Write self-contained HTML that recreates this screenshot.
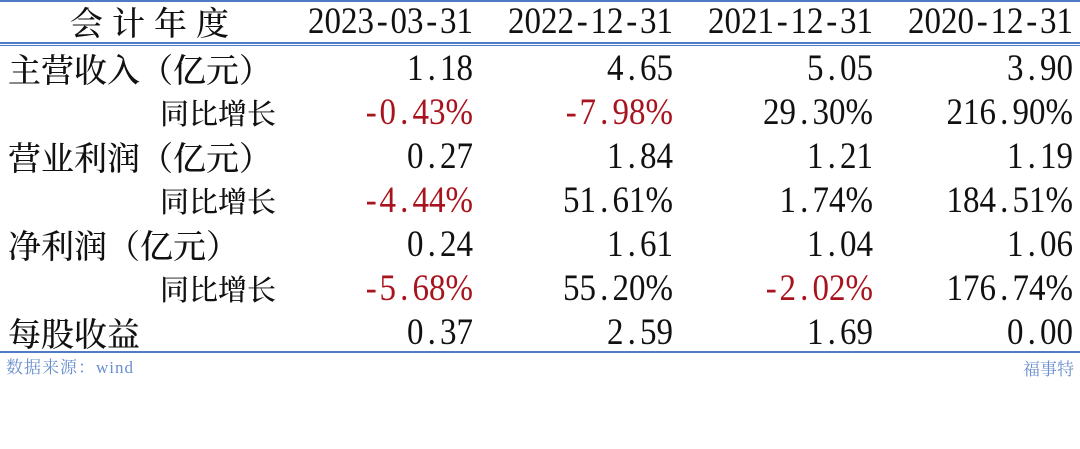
<!DOCTYPE html>
<html><head><meta charset="utf-8"><style>
body{margin:0;width:1080px;height:449px;background:#fff;position:relative;overflow:hidden;font-family:"Liberation Serif","Noto Serif CJK SC",serif;color:#111}
.r{position:absolute;left:0;width:1080px;height:44px;line-height:44px}
.c{position:absolute;top:0;font-size:33px;white-space:nowrap;text-align:right;transform:scaleY(1.12);transform-origin:50% 55%}
.n{font-family:"Liberation Serif",serif;}
.n span{display:inline-block;width:0.5em;text-align:center}
.red{color:#a8141e}
.ln{position:absolute;left:0;width:1080px;background:#4f7bc4}
.l{font-family:"Noto Serif CJK SC",serif;position:absolute;top:0;white-space:nowrap;font-weight:500}
</style></head><body>
<div class="ln" style="top:0;height:2px"></div>
<div class="ln" style="top:42px;height:2px"></div>
<div class="ln" style="top:45px;height:1px"></div>
<div class="ln" style="top:351px;height:2px"></div>

<div class="r" style="top:0">
<div class="l" style="left:70px;font-size:33px;letter-spacing:9px">会计年度</div>
<div class="c n" style="right:607px">2023<span>-</span>03<span>-</span>31</div>
<div class="c n" style="right:407px">2022<span>-</span>12<span>-</span>31</div>
<div class="c n" style="right:207px">2021<span>-</span>12<span>-</span>31</div>
<div class="c n" style="right:7px">2020<span>-</span>12<span>-</span>31</div>
</div>

<div class="r" style="top:47px">
<div class="l" style="left:8px;font-size:33px">主营收入（亿元）</div>
<div class="c n" style="right:607px">1<span>.</span>18</div>
<div class="c n" style="right:407px">4<span>.</span>65</div>
<div class="c n" style="right:207px">5<span>.</span>05</div>
<div class="c n" style="right:7px">3<span>.</span>90</div>
</div>
<div class="r" style="top:91px">
<div class="l" style="left:160px;font-size:29px">同比增长</div>
<div class="c n red" style="right:607px"><span>-</span>0<span>.</span>43%</div>
<div class="c n red" style="right:407px"><span>-</span>7<span>.</span>98%</div>
<div class="c n" style="right:207px">29<span>.</span>30%</div>
<div class="c n" style="right:7px">216<span>.</span>90%</div>
</div>
<div class="r" style="top:135px">
<div class="l" style="left:8px;font-size:33px">营业利润（亿元）</div>
<div class="c n" style="right:607px">0<span>.</span>27</div>
<div class="c n" style="right:407px">1<span>.</span>84</div>
<div class="c n" style="right:207px">1<span>.</span>21</div>
<div class="c n" style="right:7px">1<span>.</span>19</div>
</div>
<div class="r" style="top:179px">
<div class="l" style="left:160px;font-size:29px">同比增长</div>
<div class="c n red" style="right:607px"><span>-</span>4<span>.</span>44%</div>
<div class="c n" style="right:407px">51<span>.</span>61%</div>
<div class="c n" style="right:207px">1<span>.</span>74%</div>
<div class="c n" style="right:7px">184<span>.</span>51%</div>
</div>
<div class="r" style="top:223px">
<div class="l" style="left:8px;font-size:33px">净利润（亿元）</div>
<div class="c n" style="right:607px">0<span>.</span>24</div>
<div class="c n" style="right:407px">1<span>.</span>61</div>
<div class="c n" style="right:207px">1<span>.</span>04</div>
<div class="c n" style="right:7px">1<span>.</span>06</div>
</div>
<div class="r" style="top:267px">
<div class="l" style="left:160px;font-size:29px">同比增长</div>
<div class="c n red" style="right:607px"><span>-</span>5<span>.</span>68%</div>
<div class="c n" style="right:407px">55<span>.</span>20%</div>
<div class="c n red" style="right:207px"><span>-</span>2<span>.</span>02%</div>
<div class="c n" style="right:7px">176<span>.</span>74%</div>
</div>
<div class="r" style="top:311px">
<div class="l" style="left:8px;font-size:33px">每股收益</div>
<div class="c n" style="right:607px">0<span>.</span>37</div>
<div class="c n" style="right:407px">2<span>.</span>59</div>
<div class="c n" style="right:207px">1<span>.</span>69</div>
<div class="c n" style="right:7px">0<span>.</span>00</div>
</div>

<div style="position:absolute;left:6px;top:356px;font-size:17px;line-height:24px;color:#6a8fcf;font-family:'Liberation Serif','Noto Serif CJK SC',serif;letter-spacing:1px">数据来源：wind</div>
<div style="position:absolute;right:6px;top:356px;font-size:17px;line-height:24px;color:#6a8fcf;font-family:'Noto Serif CJK SC',serif">福事特</div>
</body></html>
